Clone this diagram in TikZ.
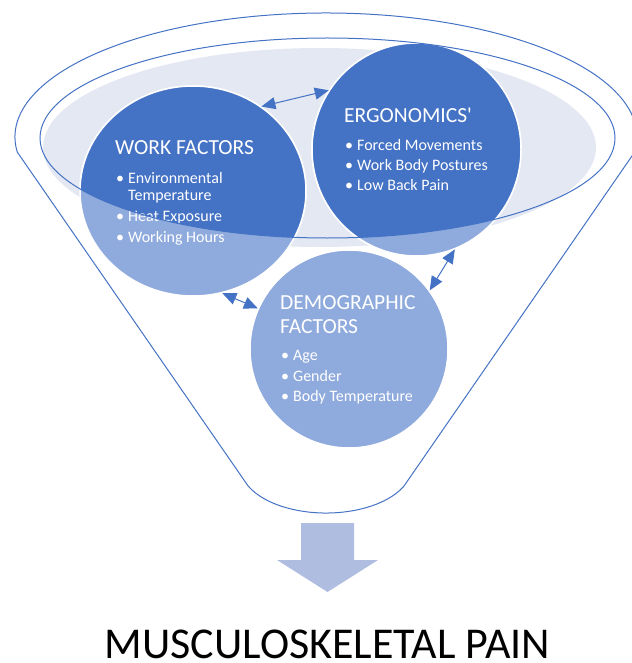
\documentclass[tikz,border=0pt]{standalone}
\usepackage{fontspec}
\setmainfont{Carlito}[Ligatures=TeXOff]
\usetikzlibrary{shapes.geometric,arrows.meta}

\definecolor{office}{HTML}{4472C4}
\definecolor{paleblue}{HTML}{8FAADC}
\definecolor{rimfill}{HTML}{E4E8F3}
\definecolor{outarrow}{HTML}{AFBDE0}

\tikzset{
  blob/.style={ellipse, inner sep=0pt, draw=white, line width=1.5pt},
  workblob/.style={blob, minimum width=226pt, minimum height=210pt},
  ergoblob/.style={blob, minimum width=209pt, minimum height=213pt},
  demoblob/.style={blob, minimum width=198pt, minimum height=198pt},
  title/.style={anchor=base west, inner sep=0pt, text=white, font=\fontsize{21.5}{24}\selectfont},
  items/.style={anchor=base west, inner sep=0pt, text=white, font=\fontsize{16}{17}\selectfont},
  link/.style={{Triangle[length=14pt,width=12pt]}-{Triangle[length=14pt,width=12pt]}, draw=office, line width=1pt},
  funnel/.style={draw=office, line width=1pt}
}

\begin{document}
\begin{tikzpicture}[x=1pt,y=-1pt]
  \useasboundingbox (0,0) rectangle (631,663);

  % shadow inside the rim
  \fill[rimfill] (319.5,147.5) ellipse [x radius=276.5, y radius=99.5];

  \node[workblob, fill=paleblue] (work) at (193,191) {};
  \node[ergoblob, fill=paleblue] (ergo) at (416.5,149.5) {};
  \node[demoblob, fill=paleblue] (demo) at (349,349) {};

  % darker part inside the rim
  \begin{scope}
    \clip (327.5,138) ellipse [x radius=287.5, y radius=100];
    \node[workblob, fill=office] at (work) {};
    \node[ergoblob, fill=office] at (ergo) {};
  \end{scope}

  \node[title] (worktitle) at (115,155) {WORK FACTORS};
  \node[items] (worklist) at (116,183) {\begin{tabular}[t]{@{}l@{\hspace{4pt}}l@{}}
    \textbullet & Environmental\\ & Temperature\\[4pt]
    \textbullet & Heat Exposure\\[4pt]
    \textbullet & Working Hours\end{tabular}};

  \node[title] (ergotitle) at (344,122.3) {ERGONOMICS'};
  \node[items] (ergolist) at (345,150.7) {\begin{tabular}[t]{@{}l@{\hspace{4pt}}l@{}}
    \textbullet & Forced Movements\\[3pt]
    \textbullet & Work Body Postures\\[3pt]
    \textbullet & Low Back Pain\end{tabular}};

  \node[title] (demotitle) at (280,309.3) {\begin{tabular}[t]{@{}l@{}}DEMOGRAPHIC\\FACTORS\end{tabular}};
  \node[items] (demolist) at (281,360.7) {\begin{tabular}[t]{@{}l@{\hspace{4pt}}l@{}}
    \textbullet & Age\\[4pt]
    \textbullet & Gender\\[3pt]
    \textbullet & Body Temperature\end{tabular}};

  % rim and funnel body
  \draw[funnel] (327.5,138) ellipse [x radius=287.5, y radius=100];
  \draw[funnel] (17.3,152.1) arc [start angle=173, end angle=367, x radius=311, y radius=124]
    -- (404,486) arc [start angle=25, end angle=155, x radius=86, y radius=46.8] -- cycle;

  \draw[link] (work.51) -- (ergo.146);
  \draw[link] (work.-74) -- (demo.156);
  \draw[link] (ergo.-69) -- (demo.36);

  % output arrow
  \fill[outarrow] (301,523) -- (354,523) -- (354,560) -- (378,560) -- (327.5,592)
    -- (277,560) -- (301,560) -- cycle;
  \node[anchor=base, inner sep=0pt, font=\fontsize{44}{50}\selectfont] (pain) at (327.5,658.5) {MUSCULOSKELETAL PAIN};
\end{tikzpicture}
\end{document}
